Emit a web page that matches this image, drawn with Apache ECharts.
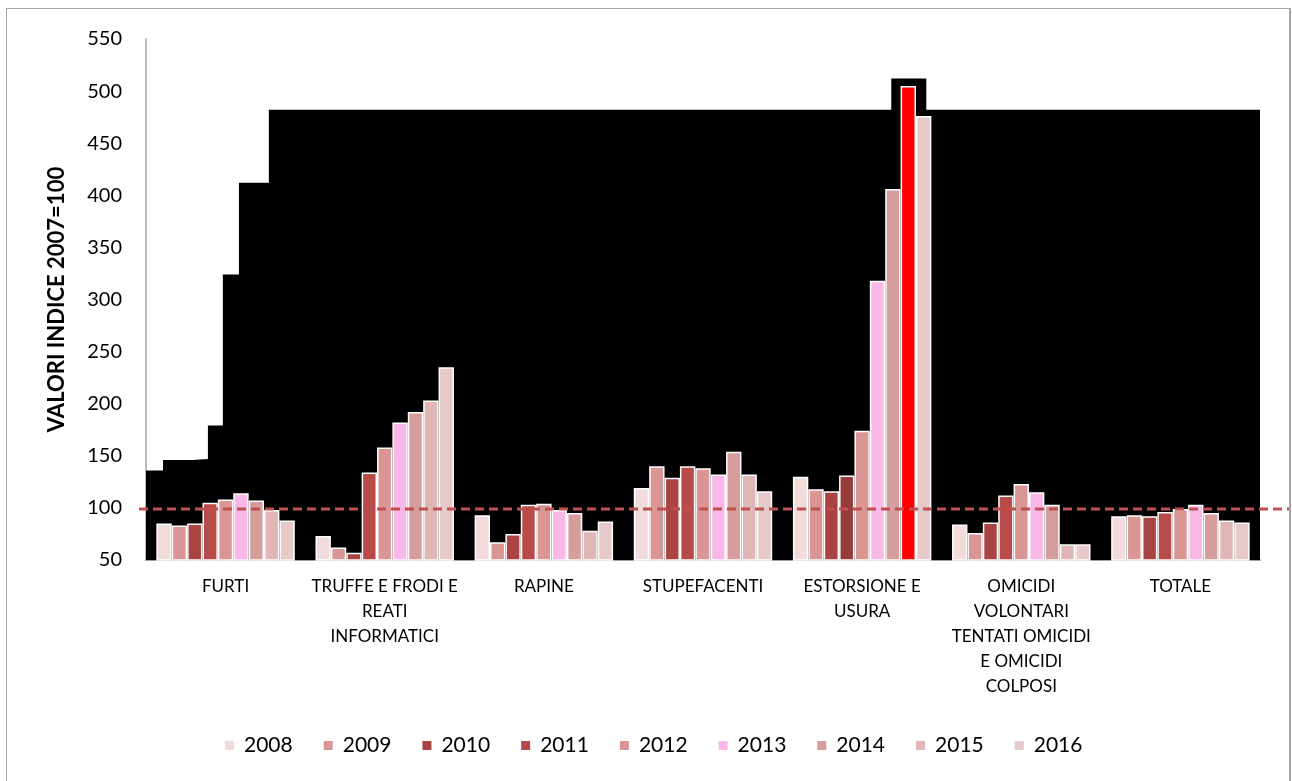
<!DOCTYPE html>
<html><head><meta charset="utf-8">
<script src="https://cdn.jsdelivr.net/npm/echarts@6/dist/echarts.min.js"></script>
<style>html,body{margin:0;padding:0;background:#fff}#c{box-sizing:border-box;border:1px solid #a6a6a6;border-right:2px solid #a6a6a6;border-bottom:none;position:absolute;left:6px;top:8px;width:1285px;height:773px}</style>
</head><body><div id="c"></div>
<script>
const categories = ['FURTI','TRUFFE E FRODI E\nREATI\nINFORMATICI','RAPINE','STUPEFACENTI','ESTORSIONE E\nUSURA','OMICIDI\nVOLONTARI\nTENTATI OMICIDI\nE OMICIDI\nCOLPOSI','TOTALE'];
const years = ['2008','2009','2010','2011','2012','2013','2014','2015','2016'];
// values per year, across categories
const v2008 = [85, 73, 93, 119, 130, 84, 92];
const v2009 = [83, 62, 67, 140, 118, 76, 93];
const v2010 = [85, 57, 75, 129, 116, 86, 92];
const v2011 = [105, 134, 103, 140, 131, 112, 96];
const v2012 = [108, 158, 104, 138, 174, 123, 99];
const v2013 = [114, 182, 98, 132, 318, 115, 103];
const v2014 = [107, 192, 95, 154, 406, 103, 95];
const v2015 = [98, 203, 78, 132, 505, 65, 88];
const v2016 = [88, 235, 87, 116, 476, 65, 86];
const yearValues = [v2008, v2009, v2010, v2011, v2012, v2013, v2014, v2015, v2016];
const refValue = 99;
// dark backdrop behind the plot (x in category units, y in index units)
const backdropX = [0, 0.107, 0.107, 0.295, 0.295, 0.389, 0.389, 0.483, 0.483, 0.584, 0.584, 0.772, 0.772, 4.683, 4.683, 4.903, 4.903, 7];
const backdropY = [136, 136, 146, 146, 147, 147, 179, 179, 324, 324, 412, 412, 482, 482, 512, 512, 482, 482];

const colors = ['#F2DCDB','#DA9694','#A94442','#B84B49','#DA9694','#FAB8E8','#D59D9C','#E0B6B6','#E6CACA'];
const FONT = 'Lato, "Open Sans", sans-serif';

const chart = echarts.init(document.getElementById('c'), null, {renderer:'canvas'});
const barSeries = years.map((y, si) => ({
  name: y, type: 'bar', xAxisIndex: 0, yAxisIndex: 0, z: 3,
  barGap: '0%', barCategoryGap: '13%',
  itemStyle: {color: colors[si], borderColor: '#ffffff', borderWidth: 1.5},
  data: yearValues[si].map((val, ci) => {
    if (ci === 4 && si === 7) return {value: val, itemStyle: {color: '#FF0000'}};
    if (ci === 4 && si === 3) return {value: val, itemStyle: {color: '#963A3A'}};
    return val;
  })
}));

const option = {
  animation: false,
  textStyle: {fontFamily: FONT},
  grid: [
    {left: 139, right: 29, top: 30, bottom: 221},
    {left: 132, right: 0, top: 30, bottom: 221}
  ],
  legend: {
    data: years, bottom: 20, left: 211, itemWidth: 11, itemHeight: 11, itemGap: 29,
    icon: 'rect', textStyle: {fontSize: 21, color: '#000', fontFamily: FONT, padding: [0, 0, 0, 4]}
  },
  xAxis: [
    {type: 'category', data: categories, gridIndex: 0,
      axisLine: {lineStyle: {color: '#a0a0a0', width: 2}}, axisTick: {show: false},
      axisLabel: {color: '#000', fontSize: 17, lineHeight: 25, margin: 14, interval: 0, fontFamily: FONT}},
    {type: 'value', gridIndex: 0, min: 0, max: 7, show: false},
    {type: 'value', gridIndex: 1, min: 0, max: 1, show: false}
  ],
  yAxis: [
    {type: 'value', gridIndex: 0, min: 50, max: 550, interval: 50,
      name: 'VALORI INDICE 2007=100', nameLocation: 'middle', nameGap: 78,
      nameTextStyle: {fontSize: 22, fontWeight: 'bold', color: '#000', fontFamily: FONT},
      axisLine: {show: true, lineStyle: {color: '#a6a6a6', width: 1.5}}, axisTick: {show: false},
      splitLine: {show: false},
      axisLabel: {color: '#000', fontSize: 20, margin: 24, fontFamily: FONT}},
    {type: 'value', gridIndex: 1, min: 50, max: 550, show: false}
  ],
  series: [
    {type: 'line', name: 'backdrop', xAxisIndex: 1, yAxisIndex: 0, silent: true, z: 1,
      symbol: 'none', lineStyle: {width: 0}, areaStyle: {color: '#000', opacity: 1, origin: 'start'},
      data: backdropX.map((x, i) => [x, backdropY[i]])},
    ...barSeries,
    {type: 'line', name: 'ref', xAxisIndex: 2, yAxisIndex: 1, silent: true, z: 10,
      symbol: 'none', lineStyle: {color: '#C0504D', width: 3, type: [9, 5]},
      data: [[0, refValue], [1, refValue]]}
  ]
};
chart.setOption(option);
</script></body></html>
